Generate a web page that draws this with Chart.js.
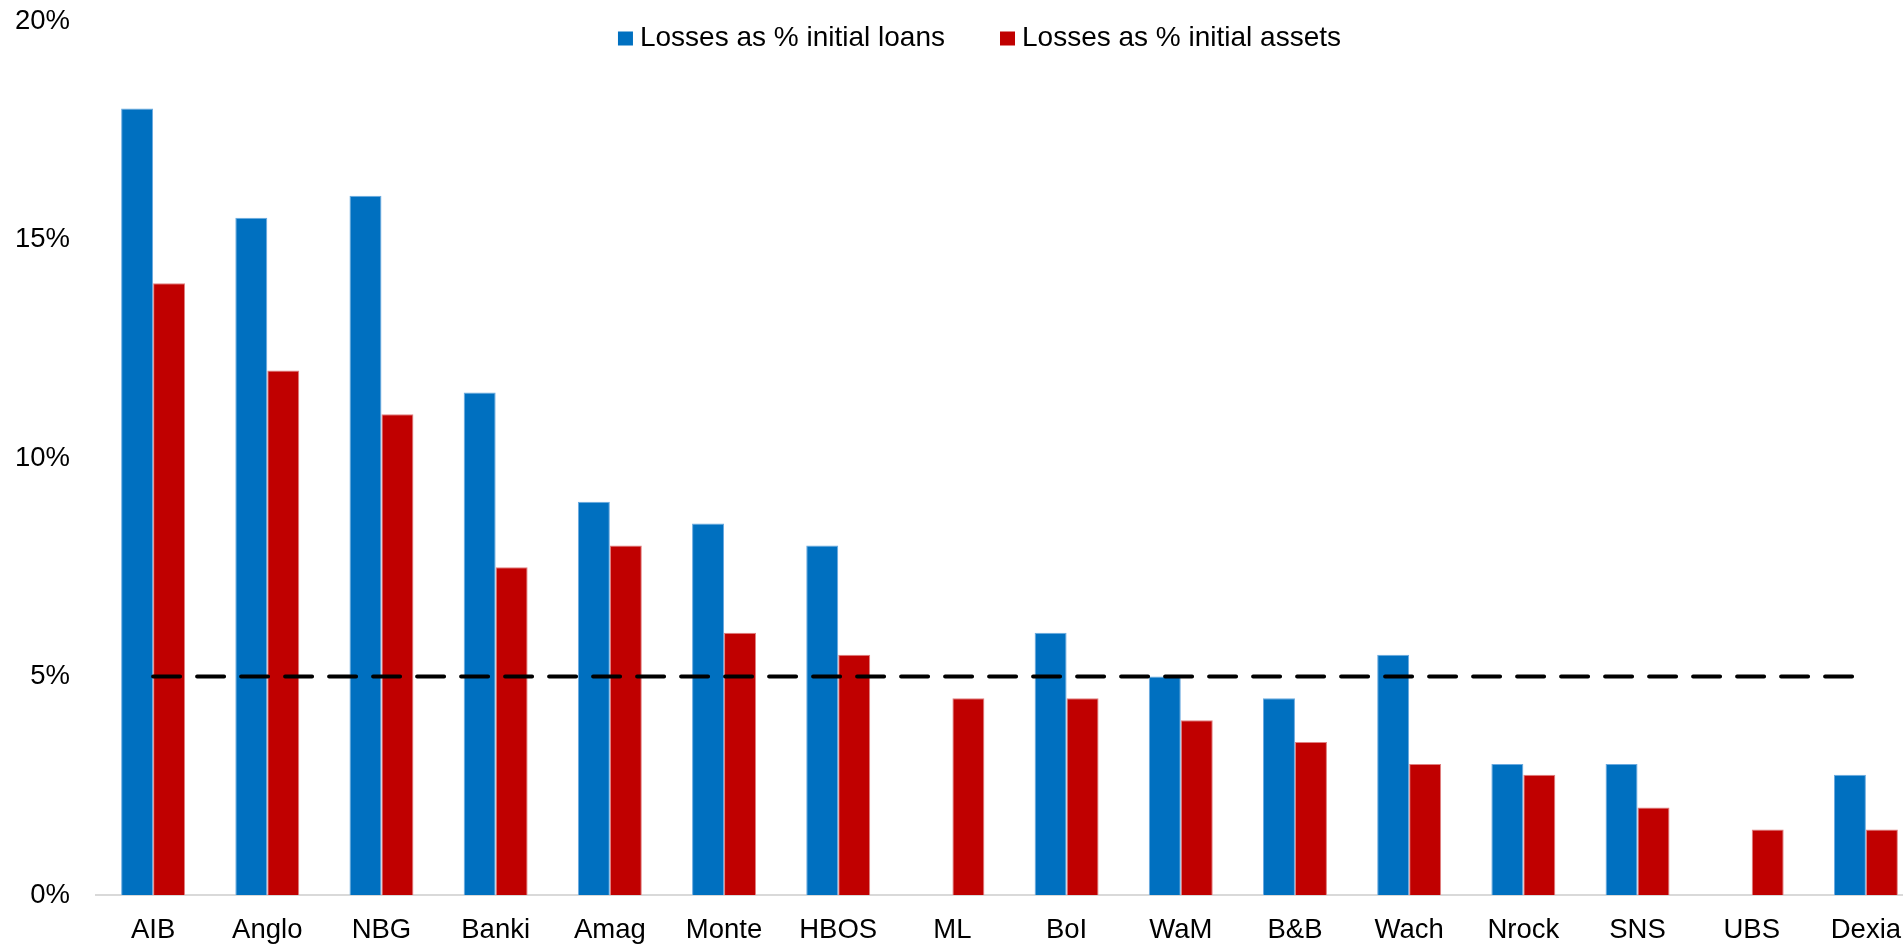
<!DOCTYPE html>
<html>
<head>
<meta charset="utf-8">
<script src="https://cdn.jsdelivr.net/npm/chart.js@4.4.1/dist/chart.umd.min.js"></script>
<style>
  html, body { margin: 0; padding: 0; overflow: hidden; background: #fff; width: 1903px; height: 944px; }
  #wrap { position: absolute; left: 0; top: 0; width: 1959px; height: 944px; }
</style>
</head>
<body>
<div id="wrap"><canvas id="c" width="1959" height="944"></canvas></div>
<script>
const categories = ['AIB', 'Anglo', 'NBG', 'Banki', 'Amag', 'Monte', 'HBOS', 'ML', 'BoI', 'WaM', 'B&B', 'Wach', 'Nrock', 'SNS', 'UBS', 'Dexia'];
const lossesLoans = [18, 15.5, 16, 11.5, 9, 8.5, 8, null, 6, 5, 4.5, 5.5, 3, 3, null, 2.75];
const lossesAssets = [14, 12, 11, 7.5, 8, 6, 5.5, 4.5, 4.5, 4, 3.5, 3, 2.75, 2, 1.5, 1.5];
const threshold = [5, 5, 5, 5, 5, 5, 5, 5, 5, 5, 5, 5, 5, 5, 5, 5];
const yTicks = [0, 5, 10, 15, 20];
const seriesLabels = ['Losses as % initial loans', 'Losses as % initial assets'];
const seriesColors = ['#0070C0', '#C00000'];
const seriesEdges = ['#6AAAE0', '#E08080'];

const FONT = '"Liberation Sans", Arial, Helvetica, sans-serif';
Chart.defaults.font.family = FONT;
Chart.defaults.color = '#000';

const legendPlugin = {
  id: 'customLegend',
  afterDraw(chart) {
    const ctx = chart.ctx;
    const items = chart.data.datasets.filter(d => d.type === 'bar');
    ctx.save();
    ctx.font = '28px ' + FONT;
    ctx.textBaseline = 'middle';
    ctx.textAlign = 'left';
    const box = 15, gap = 7, spacing = 55;
    const widths = items.map(d => ctx.measureText(d.label).width);
    const total = widths.reduce((a, w) => a + box + gap + w, 0) + spacing * (items.length - 1);
    let x = chart.width / 2 - total / 2;
    const cy = 38.5;
    items.forEach((d, i) => {
      ctx.fillStyle = d.backgroundColor;
      ctx.fillRect(x, cy - 7, box, 14);
      ctx.fillStyle = '#000';
      ctx.fillText(d.label, x + box + gap, cy);
      x += box + gap + widths[i] + spacing;
    });
    ctx.restore();
  }
};

new Chart(document.getElementById('c'), {
  type: 'bar',
  data: {
    labels: categories,
    datasets: [
      {
        type: 'line', label: '5% line', data: threshold,
        borderColor: '#000', borderWidth: 4, borderDash: [27, 17], borderCapStyle: 'round',
        pointRadius: 0, fill: false, tension: 0, order: 0
      },
      { type: 'bar', label: seriesLabels[0], data: lossesLoans, backgroundColor: seriesColors[0], borderColor: seriesEdges[0], borderWidth: 1, order: 1 },
      { type: 'bar', label: seriesLabels[1], data: lossesAssets, backgroundColor: seriesColors[1], borderColor: seriesEdges[1], borderWidth: 1, order: 1 }
    ]
  },
  options: {
    responsive: false,
    animation: false,
    devicePixelRatio: 1,
    layout: { padding: { left: 16, right: 36, top: 21, bottom: 0 } },
    datasets: { bar: { categoryPercentage: 0.56, barPercentage: 1 } },
    plugins: { legend: { display: false }, tooltip: { enabled: false } },
    scales: {
      x: {
        offset: true,
        grid: { display: false, drawTicks: false },
        border: { display: true, color: '#d9d9d9', width: 2 },
        ticks: { color: '#000', font: { size: 27.5 }, padding: 19, maxRotation: 0, autoSkip: false },
        afterFit(s) { s.height = 49; s.paddingLeft = 0; s.paddingRight = 0; }
      },
      y: {
        min: 0, max: 20,
        grid: { display: false, drawTicks: false },
        border: { display: false },
        ticks: { color: '#000', font: { size: 27.5 }, padding: 26, callback: v => v + '%' },
        afterBuildTicks(s) { s.ticks = yTicks.map(v => ({ value: v })); },
        afterFit(s) { s.width = 80; s.paddingTop = 16; s.paddingBottom = 16; }
      }
    }
  },
  plugins: [legendPlugin]
});
</script>
</body>
</html>
